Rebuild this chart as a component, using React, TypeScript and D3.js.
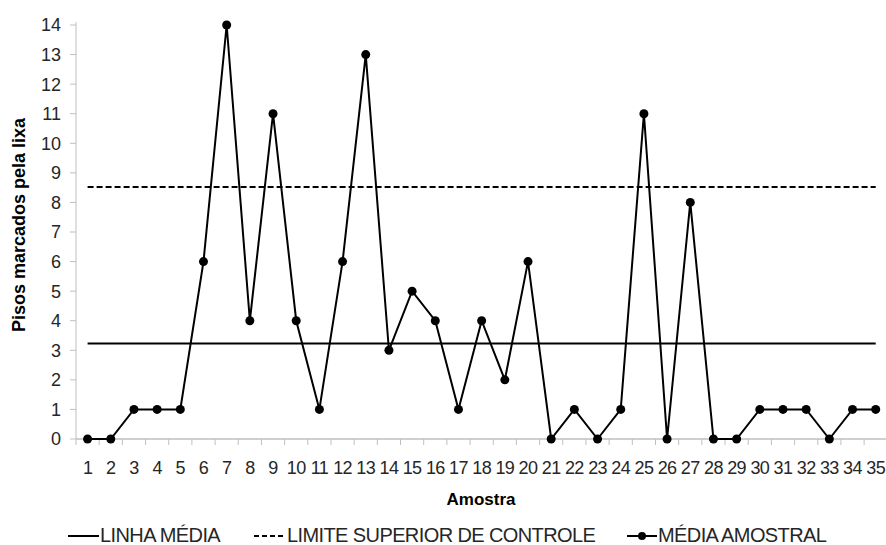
import React from "react";
import * as d3 from "d3";

const categories = Array.from({ length: 35 }, (_, i) => String(i + 1));
const sampleMean = [0, 0, 1, 1, 1, 6, 14, 4, 11, 4, 1, 6, 13, 3, 5, 4, 1, 4, 2, 6, 0, 1, 0, 1, 11, 0, 8, 0, 0, 1, 1, 1, 0, 1, 1];
const meanLine = 3.23;
const upperLimit = 8.52;
const yTicks = d3.range(0, 15);

const W = 886, H = 545;
const left = 76, right = 887.3, top = 25, bottom = 439;

export default function App() {
  const x = d3.scaleBand<string>().domain(categories).range([left, right]);
  const y = d3.scaleLinear().domain([0, 14]).range([bottom, top]);
  const cx = (c: string) => (x(c) as number) + x.bandwidth() / 2;
  const line = d3.line<number>().x((_, i) => cx(categories[i])).y((d) => y(d));
  const x0 = cx(categories[0]);
  const x1 = cx(categories[categories.length - 1]);
  const font = "'Liberation Sans', Arial, sans-serif";
  const txt = "#262626";
  const boundaries = categories.map((c) => x(c) as number).concat([right]);
  const legY = 536;
  return (
    <svg width={W} height={H} style={{ position: "absolute", left: 0, top: 0, background: "#fff" }} fontFamily={font}>
      {/* y axis */}
      <line x1={left} x2={left} y1={top - 3} y2={bottom} stroke="#bfbfbf" strokeWidth={1} />
      {yTicks.map((t) => (
        <g key={t}>
          <line x1={left - 6} x2={left} y1={y(t)} y2={y(t)} stroke="#bfbfbf" />
          <text x={61} y={y(t)} dy="0.36em" textAnchor="end" fontSize={18} fill={txt}>{t}</text>
        </g>
      ))}
      {/* x axis */}
      <line x1={left} x2={right} y1={bottom} y2={bottom} stroke="#bfbfbf" strokeWidth={1.5} />
      {boundaries.map((b, i) => (
        <line key={i} x1={b} x2={b} y1={bottom} y2={bottom + 6} stroke="#bfbfbf" />
      ))}
      {categories.map((c) => (
        <text key={c} x={cx(c)} y={474} textAnchor="middle" fontSize={18} fill={txt} letterSpacing={-0.6}>{c}</text>
      ))}
      {/* reference lines */}
      <line x1={x0} x2={x1} y1={y(upperLimit)} y2={y(upperLimit)} stroke="#000" strokeWidth={2} strokeDasharray="6,3" />
      <line x1={x0} x2={x1} y1={y(meanLine)} y2={y(meanLine)} stroke="#000" strokeWidth={2} />
      {/* series */}
      <path d={line(sampleMean) || ""} fill="none" stroke="#000" strokeWidth={2} />
      {sampleMean.map((v, i) => (
        <circle key={i} cx={cx(categories[i])} cy={y(v)} r={4.5} fill="#000" />
      ))}
      {/* titles */}
      <text x={481} y={505} textAnchor="middle" fontSize={17} fontWeight="bold" fill="#000">Amostra</text>
      <text transform={`translate(25,225) rotate(-90)`} textAnchor="middle" fontSize={18} fontWeight="bold" fill="#000">Pisos marcados pela lixa</text>
      {/* legend */}
      <g fontSize={20} fill={txt} letterSpacing={-0.6}>
        <line x1={68} x2={99} y1={legY} y2={legY} stroke="#000" strokeWidth={2} />
        <text x={100} y={legY + 6}>LINHA MÉDIA</text>
        <line x1={254} x2={286} y1={legY} y2={legY} stroke="#000" strokeWidth={2} strokeDasharray="5,3" />
        <text x={287} y={legY + 6}>LIMITE SUPERIOR DE CONTROLE</text>
        <line x1={627} x2={657} y1={legY} y2={legY} stroke="#000" strokeWidth={2} />
        <circle cx={642} cy={legY} r={4} fill="#000" />
        <text x={658} y={legY + 6}>MÉDIA AMOSTRAL</text>
      </g>
    </svg>
  );
}
